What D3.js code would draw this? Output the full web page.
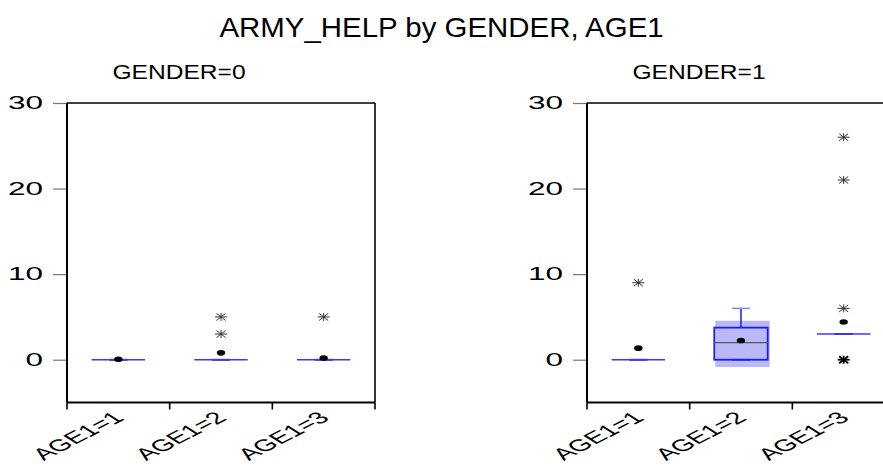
<!DOCTYPE html>
<html>
<head>
<meta charset="utf-8">
<script src="https://cdn.jsdelivr.net/npm/d3@7"></script>
<style>
  html, body { margin: 0; padding: 0; background: #fff; }
  svg { display: block; }
  text { font-family: "Liberation Sans", Arial, sans-serif; fill: #000; }
</style>
</head>
<body>
<svg id="chart" width="883" height="467"></svg>
<script>
// ---- data ----
const title = "ARMY_HELP by GENDER, AGE1";
const panelNames = ["GENDER=0", "GENDER=1"];
const categories = ["AGE1=1", "AGE1=2", "AGE1=3"];
const yTicks = [0, 10, 20, 30];

// GENDER=0
const g0Q1      = [0, 0, 0];
const g0Median  = [0, 0, 0];
const g0Q3      = [0, 0, 0];
const g0WhiskLo = [0, 0, 0];
const g0WhiskHi = [0, 0, 0];
const g0Mean    = [0.05, 0.8, 0.2];
const g0Outliers = [[], [3, 5], [5]];
const g0CiLo    = [null, null, null];
const g0CiHi    = [null, null, null];

// GENDER=1
const g1Q1      = [0, 0, 3];
const g1Median  = [0, 2, 3];
const g1Q3      = [0, 3.75, 3];
const g1WhiskLo = [0, 0, 3];
const g1WhiskHi = [0, 6, 3];
const g1Mean    = [1.35, 2.25, 4.4];
const g1Outliers = [[9], [], [0, 6, 21, 26]];
const g1FarOutliers = [[], [], [0]];
const g1CiLo    = [null, -0.85, null];
const g1CiHi    = [null, 4.55, null];

const panels = [
  { name: panelNames[0], q1: g0Q1, med: g0Median, q3: g0Q3, lo: g0WhiskLo, hi: g0WhiskHi,
    mean: g0Mean, out: g0Outliers, far: [[], [], []], ciLo: g0CiLo, ciHi: g0CiHi },
  { name: panelNames[1], q1: g1Q1, med: g1Median, q3: g1Q3, lo: g1WhiskLo, hi: g1WhiskHi,
    mean: g1Mean, out: g1Outliers, far: g1FarOutliers, ciLo: g1CiLo, ciHi: g1CiHi }
];

// ---- layout ----
const svg = d3.select("#chart");
const plotTop = 103, plotBottom = 402.5, plotW = 308;
const panelLeft = [67, 587];
const subtitleX = [179, 699];

const y = d3.scaleLinear().domain([-5, 30]).range([plotBottom, plotTop]);

// horizontally stretched text helper
function stretchedText(g, x, yy, str, size, sx, anchor) {
  return g.append("text")
    .attr("transform", `translate(${x},${yy}) scale(${sx},1)`)
    .attr("text-anchor", anchor)
    .style("font-size", size + "px")
    .text(str);
}

stretchedText(svg, 441.5, 37, title, 27, 1.09, "middle");

panels.forEach((p, pi) => {
  const x0 = panelLeft[pi];
  const x = d3.scaleBand().domain(categories).range([x0, x0 + plotW]);
  const g = svg.append("g");

  stretchedText(g, subtitleX[pi], 79, p.name, 20.5, 1.2, "middle");

  // frame: top and right borders
  g.append("line").attr("x1", x0).attr("x2", x0 + plotW).attr("y1", plotTop).attr("y2", plotTop)
    .attr("stroke", "#000").attr("stroke-width", 1.6);
  g.append("line").attr("x1", x0 + plotW).attr("x2", x0 + plotW).attr("y1", plotTop).attr("y2", plotBottom)
    .attr("stroke", "#000").attr("stroke-width", 1.6);

  // y axis
  const yAxis = d3.axisLeft(y).tickValues(yTicks).tickSize(14).tickPadding(10).tickFormat(d3.format("d"));
  const ya = g.append("g").attr("transform", `translate(${x0},0)`).call(yAxis);
  ya.select(".domain").remove();
  ya.selectAll(".tick line").attr("stroke", "#777").attr("stroke-width", 1.2);
  ya.selectAll(".tick text").remove();
  yTicks.forEach(t => {
    stretchedText(g, x0 - 24, y(t) + 6, String(t), 17.5, 1.8, "end");
  });
  g.append("line").attr("x1", x0).attr("x2", x0).attr("y1", plotTop).attr("y2", plotBottom)
    .attr("stroke", "#000").attr("stroke-width", 2);

  // x axis: ticks at category boundaries
  const bounds = categories.map(c => x(c)).concat([x0 + plotW]);
  g.append("line").attr("x1", x0).attr("x2", x0 + plotW).attr("y1", plotBottom).attr("y2", plotBottom)
    .attr("stroke", "#000").attr("stroke-width", 2);
  g.selectAll(".xt").data(bounds).enter().append("line")
    .attr("x1", d => d).attr("x2", d => d).attr("y1", plotBottom).attr("y2", plotBottom + 7)
    .attr("stroke", "#000").attr("stroke-width", 1.6);
  categories.forEach(c => {
    const cx = x(c) + x.bandwidth() / 2;
    g.append("text")
      .attr("transform", `translate(${cx + 7},${419}) scale(1.75,1) rotate(-42)`)
      .attr("text-anchor", "end")
      .style("font-size", "16.5px")
      .text(c);
  });

  // boxes
  const halfBox = x.bandwidth() * 0.26;
  const halfCap = x.bandwidth() * 0.088;
  categories.forEach((c, i) => {
    const cx = x(c) + x.bandwidth() / 2;
    // shaded interval
    if (p.ciLo[i] !== null) {
      g.append("rect")
        .attr("x", cx - halfBox + 1).attr("width", halfBox * 2 + 1)
        .attr("y", y(p.ciHi[i])).attr("height", y(p.ciLo[i]) - y(p.ciHi[i]))
        .attr("fill", "#b9b9f7");
    }
    // whiskers
    if (p.hi[i] > p.q3[i]) {
      g.append("line").attr("x1", cx).attr("x2", cx).attr("y1", y(p.q3[i])).attr("y2", y(p.hi[i]))
        .attr("stroke", "#1a1aff").attr("stroke-width", 1.5);
    }
    if (p.lo[i] < p.q1[i]) {
      g.append("line").attr("x1", cx).attr("x2", cx).attr("y1", y(p.q1[i])).attr("y2", y(p.lo[i]))
        .attr("stroke", "#1a1aff").attr("stroke-width", 1.5);
    }
    g.append("line").attr("x1", cx - halfCap).attr("x2", cx + halfCap)
      .attr("y1", y(p.hi[i])).attr("y2", y(p.hi[i]))
      .attr("stroke", p.hi[i] > p.q3[i] ? "#8a8aff" : "#2020f0").attr("stroke-width", 1.6);
    g.append("line").attr("x1", cx - halfCap).attr("x2", cx + halfCap)
      .attr("y1", y(p.lo[i])).attr("y2", y(p.lo[i]))
      .attr("stroke", "#2020f0").attr("stroke-width", 1.6);
    // box
    if (p.q3[i] > p.q1[i]) {
      g.append("rect")
        .attr("x", cx - halfBox).attr("width", halfBox * 2)
        .attr("y", y(p.q3[i])).attr("height", y(p.q1[i]) - y(p.q3[i]))
        .attr("fill", "none").attr("stroke", "#1a1aff").attr("stroke-width", 1.8);
      g.append("line").attr("x1", cx - halfBox).attr("x2", cx + halfBox)
        .attr("y1", y(p.med[i])).attr("y2", y(p.med[i]))
        .attr("stroke", "#555").attr("stroke-width", 1.3);
    } else {
      g.append("line").attr("x1", cx - halfBox).attr("x2", cx + halfBox)
        .attr("y1", y(p.med[i])).attr("y2", y(p.med[i]))
        .attr("stroke", "#3a3aff").attr("stroke-width", 1.6);
    }
    // mean
    g.append("ellipse").attr("cx", cx).attr("cy", y(p.mean[i]))
      .attr("rx", 4.2).attr("ry", 2.8).attr("fill", "#000");
    // outliers drawn as asterisks
    p.out[i].forEach(v => {
      const far = p.far[i].includes(v);
      const a = g.append("g").attr("transform", `translate(${cx},${y(v)})`)
        .attr("stroke", far ? "#000" : "#333").attr("stroke-width", far ? 1.8 : 1);
      a.append("line").attr("x1", -6).attr("x2", 6).attr("y1", 0).attr("y2", 0);
      a.append("line").attr("x1", 0).attr("x2", 0).attr("y1", -4).attr("y2", 4);
      a.append("line").attr("x1", -4.5).attr("x2", 4.5).attr("y1", -3.5).attr("y2", 3.5);
      a.append("line").attr("x1", -4.5).attr("x2", 4.5).attr("y1", 3.5).attr("y2", -3.5);
    });
  });
});
</script>
</body>
</html>
